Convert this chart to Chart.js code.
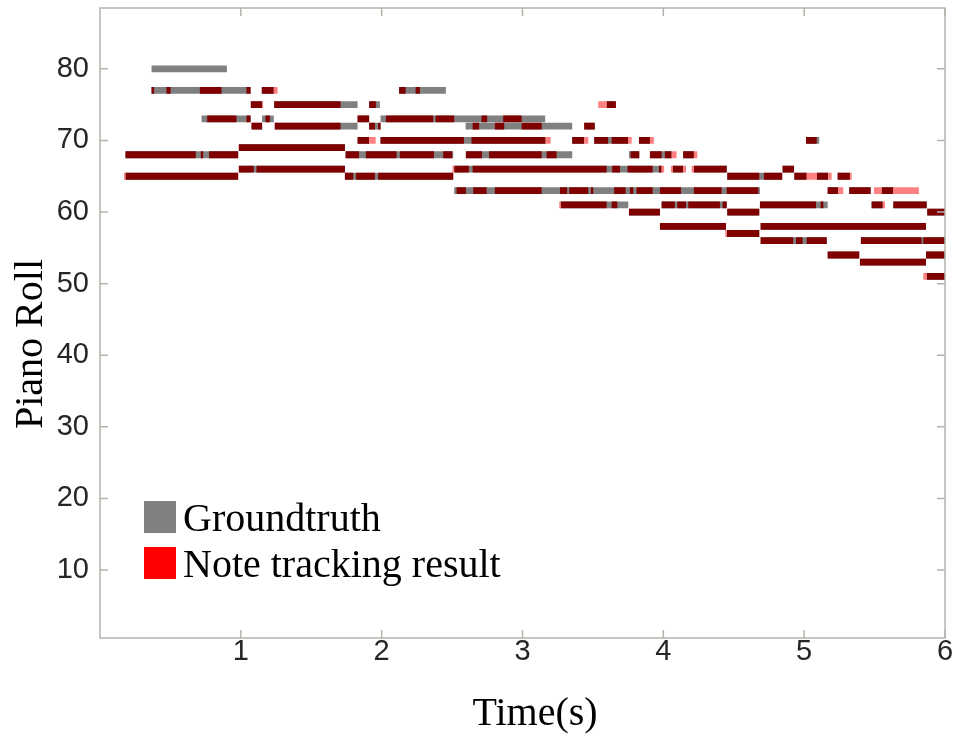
<!DOCTYPE html>
<html>
<head>
<meta charset="utf-8">
<script src="https://cdn.jsdelivr.net/npm/chart.js@4/dist/chart.umd.min.js"></script>
<style>
  html, body { margin: 0; padding: 0; background: #ffffff; }
  #wrap { width: 960px; height: 738px; }
</style>
</head>
<body>
<div id="wrap"><canvas id="c" width="960" height="738"></canvas></div>
<script>
// ---- DATA: [pitch, start(s), end(s)] ----
// Groundtruth notes (gray)
const groundtruth = [
  [80, 0.366, 0.901],
  [77, 0.366, 1.069], [77, 1.149, 1.234], [77, 2.124, 2.456],
  [75, 1.071, 1.151], [75, 1.237, 1.829], [75, 1.911, 1.987], [75, 3.597, 3.663],
  [73, 0.721, 1.069], [73, 1.151, 1.234], [73, 1.829, 1.911], [73, 1.992, 3.161],
  [72, 1.076, 1.151], [72, 1.241, 1.829], [72, 1.911, 1.992], [72, 2.596, 3.353], [72, 3.438, 3.513],
  [70, 1.829, 1.911], [70, 1.992, 3.164], [70, 3.353, 3.438], [70, 3.509, 3.751], [70, 3.827, 3.905], [70, 5.013, 5.107],
  [69, 0.986, 1.739],
  [68, 0.181, 0.981], [68, 1.744, 2.508], [68, 2.598, 3.353], [68, 3.756, 3.829], [68, 3.905, 4.059], [68, 4.141, 4.217],
  [66, 0.986, 1.739], [66, 2.515, 3.988], [66, 4.066, 4.141], [66, 4.217, 4.450], [66, 4.847, 4.928],
  [65, 0.181, 0.981], [65, 1.739, 2.508], [65, 4.454, 4.844], [65, 4.930, 5.018], [65, 5.089, 5.171], [65, 5.238, 5.325],
  [63, 2.515, 4.686], [63, 5.167, 5.242], [63, 5.320, 5.472], [63, 5.550, 5.633],
  [61, 3.271, 3.751], [61, 3.988, 4.450], [61, 4.686, 5.167], [61, 5.479, 5.558], [61, 5.633, 5.870],
  [60, 3.756, 3.976], [60, 4.454, 4.681], [60, 5.874, 6.0],
  [58, 3.976, 4.445], [58, 4.691, 5.865],
  [57, 4.450, 4.681],
  [56, 4.691, 5.160], [56, 5.403, 6.0],
  [54, 5.167, 5.391], [54, 5.865, 6.0],
  [53, 5.396, 5.865],
  [51, 5.870, 6.0]
];
// Note tracking result overlapping groundtruth (dark red)
const matched = [
  [77, 0.366, 0.384], [77, 0.472, 0.501], [77, 0.709, 0.863], [77, 1.040, 1.069], [77, 1.149, 1.234],
  [77, 2.124, 2.170], [77, 2.241, 2.271],
  [75, 1.071, 1.151], [75, 1.237, 1.708], [75, 1.911, 1.959], [75, 3.597, 3.663],
  [73, 0.761, 0.969], [73, 1.040, 1.069], [73, 1.175, 1.206], [73, 1.829, 1.911],
  [73, 2.030, 2.366], [73, 2.383, 2.515], [73, 2.709, 2.749], [73, 2.863, 2.994],
  [72, 1.076, 1.151], [72, 1.241, 1.708], [72, 1.911, 1.952], [72, 1.975, 1.992],
  [72, 2.646, 2.692], [72, 2.804, 2.870], [72, 2.994, 3.136], [72, 3.438, 3.513],
  [70, 1.829, 1.911], [70, 1.992, 2.584], [70, 2.638, 3.164], [70, 3.353, 3.438],
  [70, 3.509, 3.608], [70, 3.633, 3.751], [70, 3.827, 3.905], [70, 5.013, 5.089],
  [69, 0.986, 1.739],
  [68, 0.181, 0.680], [68, 0.716, 0.732], [68, 0.775, 0.981],
  [68, 1.744, 1.839], [68, 1.888, 2.106], [68, 2.129, 2.371], [68, 2.437, 2.501],
  [68, 2.598, 2.712], [68, 2.763, 3.136], [68, 3.171, 3.242],
  [68, 3.768, 3.829], [68, 3.905, 3.988], [68, 4.011, 4.059], [68, 4.141, 4.217],
  [66, 0.986, 1.092], [66, 1.111, 1.739],
  [66, 2.515, 2.619], [66, 2.646, 3.597], [66, 3.637, 3.692], [66, 3.746, 3.924], [66, 3.969, 3.988],
  [66, 4.066, 4.141], [66, 4.217, 4.450], [66, 4.847, 4.928],
  [65, 0.181, 0.981], [65, 1.739, 1.798], [65, 1.817, 1.952], [65, 1.975, 2.508],
  [65, 4.454, 4.681], [65, 4.714, 4.844], [65, 4.930, 5.018], [65, 5.089, 5.171], [65, 5.238, 5.325],
  [63, 2.532, 2.598], [63, 2.650, 2.745], [63, 2.804, 3.136], [63, 3.266, 3.317], [63, 3.332, 3.467],
  [63, 3.486, 3.502], [63, 3.651, 3.732], [63, 3.763, 3.786], [63, 3.810, 3.924], [63, 3.976, 4.125],
  [63, 4.217, 4.414], [63, 4.450, 4.674], [63, 5.167, 5.242], [63, 5.320, 5.472], [63, 5.550, 5.633],
  [61, 3.271, 3.597], [61, 3.633, 3.673], [61, 3.988, 4.082], [61, 4.099, 4.161], [61, 4.177, 4.402],
  [61, 4.421, 4.450], [61, 4.686, 5.084], [61, 5.117, 5.136], [61, 5.479, 5.558], [61, 5.633, 5.870],
  [60, 3.756, 3.976], [60, 4.454, 4.681], [60, 5.874, 6.0],
  [58, 3.976, 4.445], [58, 4.691, 5.865],
  [57, 4.450, 4.681],
  [56, 4.691, 4.922], [56, 4.942, 4.989], [56, 5.018, 5.160], [56, 5.403, 5.834], [56, 5.846, 6.0],
  [54, 5.167, 5.391], [54, 5.865, 6.0],
  [53, 5.396, 5.865],
  [51, 5.870, 6.0]
];
// Note tracking result outside groundtruth (light red)
const extra = [
  [77, 1.234, 1.261],
  [75, 1.151, 1.158], [75, 3.538, 3.597],
  [70, 1.911, 1.957], [70, 3.164, 3.200], [70, 3.438, 3.467], [70, 3.751, 3.775], [70, 3.905, 3.933],
  [68, 4.059, 4.094], [68, 4.217, 4.241],
  [66, 2.503, 2.515], [66, 3.988, 4.006], [66, 4.054, 4.066], [66, 4.141, 4.161], [66, 4.201, 4.217],
  [65, 0.171, 0.181], [65, 5.018, 5.089], [65, 5.171, 5.195], [65, 5.325, 5.337],
  [63, 5.242, 5.278], [63, 5.496, 5.550], [63, 5.633, 5.815],
  [61, 3.261, 3.271], [61, 5.558, 5.574],
  [57, 4.440, 4.450],
  [51, 5.846, 5.870]
];
const xTicks = [1, 2, 3, 4, 5, 6];
const yTicks = [10, 20, 30, 40, 50, 60, 70, 80];
const legendLabels = ['Groundtruth', 'Note tracking result'];
const xTitle = 'Time(s)';
const yTitle = 'Piano Roll';

// ---- build line segments separated by gaps ----
function toSegments(list) {
  const out = [];
  list.forEach(([p, s, e]) => {
    out.push({ x: s, y: p }, { x: e, y: p }, { x: e, y: null });
  });
  return out;
}

const FRAME = '#b4b4ac';
const framePlugin = {
  id: 'frame',
  afterDraw(chart) {
    const { ctx, chartArea: a, scales } = chart;
    ctx.save();
    ctx.strokeStyle = FRAME;
    ctx.lineWidth = 1.5;
    ctx.strokeRect(a.left, a.top, a.right - a.left, a.bottom - a.top);
    const tl = 8;
    ctx.beginPath();
    xTicks.forEach(v => {
      const px = scales.x.getPixelForValue(v);
      ctx.moveTo(px, a.bottom); ctx.lineTo(px, a.bottom - tl);
      ctx.moveTo(px, a.top); ctx.lineTo(px, a.top + tl);
    });
    yTicks.forEach(v => {
      const py = scales.y.getPixelForValue(v);
      ctx.moveTo(a.left, py); ctx.lineTo(a.left + tl, py);
      ctx.moveTo(a.right, py); ctx.lineTo(a.right - tl, py);
    });
    ctx.stroke();

    // legend
    ctx.fillStyle = '#808080';
    ctx.fillRect(144, 501, 32, 32);
    ctx.fillStyle = '#ff0000';
    ctx.fillRect(144, 547, 32, 32);
    ctx.fillStyle = '#000000';
    ctx.font = '40px "Liberation Serif", "Times New Roman", serif';
    ctx.textAlign = 'left';
    ctx.textBaseline = 'alphabetic';
    ctx.fillText(legendLabels[0], 183, 531);
    ctx.fillText(legendLabels[1], 183, 577);

    // axis titles
    ctx.textAlign = 'center';
    ctx.fillText(xTitle, 535, 725);
    ctx.translate(42, 344);
    ctx.rotate(-Math.PI / 2);
    ctx.fillText(yTitle, 0, 0);
    ctx.restore();
  }
};

const common = {
  type: 'line', showLine: true, pointRadius: 0, pointHoverRadius: 0,
  borderWidth: 6.8, borderCapStyle: 'butt', borderJoinStyle: 'miter',
  spanGaps: false, tension: 0, fill: false
};

new Chart(document.getElementById('c'), {
  type: 'line',
  data: {
    datasets: [
      Object.assign({}, common, { label: legendLabels[0], data: toSegments(groundtruth), borderColor: '#808080', backgroundColor: '#808080', order: 3 }),
      Object.assign({}, common, { label: 'matched', data: toSegments(matched), borderColor: '#800000', backgroundColor: '#800000', order: 2 }),
      Object.assign({}, common, { label: legendLabels[1], data: toSegments(extra), borderColor: '#ff8080', backgroundColor: '#ff8080', order: 1 })
    ]
  },
  options: {
    responsive: false,
    animation: false,
    events: [],
    layout: { padding: { left: 0, right: 15, top: 8, bottom: 0 } },
    plugins: { legend: { display: false }, tooltip: { enabled: false } },
    scales: {
      x: {
        type: 'linear', min: 0, max: 6,
        afterFit(s) { s.height = 100; s.paddingLeft = 0; s.paddingRight = 0; },
        afterBuildTicks(s) { s.ticks = xTicks.map(v => ({ value: v })); },
        grid: { display: false, drawTicks: false },
        border: { display: false },
        ticks: { padding: -3, color: '#262626', maxRotation: 0,
          font: { family: '"Liberation Sans", Arial, Helvetica, sans-serif', size: 29 } }
      },
      y: {
        type: 'linear', min: 0.5, max: 88.5,
        afterFit(s) { s.width = 100; s.paddingTop = 0; s.paddingBottom = 0; },
        afterBuildTicks(s) { s.ticks = yTicks.map(v => ({ value: v })); },
        grid: { display: false, drawTicks: false },
        border: { display: false },
        ticks: { padding: 11, color: '#262626',
          font: { family: '"Liberation Sans", Arial, Helvetica, sans-serif', size: 29 } }
      }
    }
  },
  plugins: [framePlugin]
});
</script>
</body>
</html>
